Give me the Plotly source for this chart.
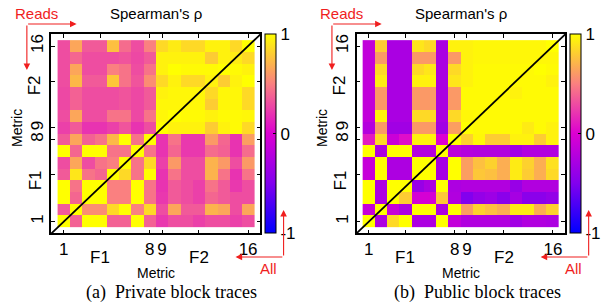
import plotly.graph_objects as go

W, H = 604, 305

metrics = list(range(1, 17))
x_tick_vals = [1, 4, 8, 9, 12, 16]
x_tick_text = ["1", "", "8", "9", "", "16"]
y_tick_vals = [1, 5, 8, 9, 13, 16]
y_tick_text = ["1", "", "8", "9", "", "16"]
cbar_vals = [-1, 0, 1]
cbar_text = ["-1", "0", "1"]

# rows listed from metric 16 (top) down to metric 1 (bottom)
private_rows = [
    [0.30, 0.65, 0.35, 0.35, 0.75, 0.42, 0.30, 0.50, 0.85, 0.92, 0.85, 0.85, 0.95, 0.95, 0.85, 1.00],
    [0.30, 0.40, 0.30, 0.30, 0.30, 0.33, 0.28, 0.35, 0.95, 0.95, 0.95, 0.95, 0.80, 0.95, 0.92, 0.85],
    [0.30, 0.65, 0.30, 0.30, 0.50, 0.45, 0.30, 0.45, 0.95, 1.00, 0.98, 0.98, 0.98, 1.00, 0.98, 0.95],
    [0.30, 0.72, 0.35, 0.35, 0.78, 0.45, 0.33, 0.55, 0.85, 0.95, 0.85, 0.85, 0.95, 0.80, 0.95, 1.00],
    [0.28, 0.38, 0.30, 0.30, 0.30, 0.33, 0.28, 0.35, 0.95, 0.97, 0.97, 0.97, 0.85, 0.97, 0.97, 0.85],
    [0.28, 0.38, 0.30, 0.30, 0.30, 0.33, 0.28, 0.35, 0.97, 0.97, 0.97, 0.97, 0.80, 0.97, 0.97, 0.85],
    [0.30, 0.65, 0.30, 0.30, 0.45, 0.45, 0.28, 0.45, 0.97, 1.00, 0.98, 0.98, 0.95, 0.98, 0.98, 0.97],
    [0.25, 0.35, 0.20, 0.20, 0.25, 0.33, 0.20, 0.30, 1.00, 0.95, 0.95, 0.95, 0.80, 0.95, 0.98, 0.85],
    [0.35, 0.65, 0.38, 0.45, 0.72, 1.00, 0.45, 1.00, 0.20, 0.45, 0.22, 0.22, 0.60, 0.40, 0.20, 0.62],
    [1.00, 0.40, 1.00, 1.00, 0.45, 0.45, 1.00, 0.45, 0.20, 0.40, 0.22, 0.22, 0.42, 0.38, 0.20, 0.42],
    [0.30, 0.65, 0.30, 0.45, 0.50, 1.00, 0.45, 0.85, 0.25, 0.60, 0.30, 0.30, 0.70, 0.60, 0.30, 0.60],
    [0.35, 0.90, 0.45, 0.40, 1.00, 0.85, 0.45, 1.00, 0.20, 0.45, 0.30, 0.30, 0.70, 0.45, 0.20, 0.45],
    [1.00, 0.45, 1.00, 1.00, 0.50, 0.50, 1.00, 0.45, 0.20, 0.35, 0.30, 0.25, 0.45, 0.35, 0.22, 0.30],
    [1.00, 0.40, 1.00, 1.00, 0.50, 0.50, 1.00, 0.45, 0.22, 0.35, 0.30, 0.25, 0.40, 0.35, 0.30, 0.30],
    [0.35, 1.00, 0.55, 0.55, 0.85, 1.00, 0.50, 0.85, 0.30, 0.65, 0.35, 0.35, 0.70, 0.65, 0.30, 0.65],
    [1.00, 0.38, 1.00, 1.00, 0.38, 0.38, 1.00, 0.38, 0.22, 0.30, 0.30, 0.25, 0.30, 0.30, 0.25, 0.30],
]

public_rows = [
    [-0.15, 0.80, -0.28, -0.28, 0.90, 0.85, -0.28, 0.95, 0.95, 0.97, 0.97, 0.97, 0.97, 0.97, 0.97, 1.00],
    [-0.15, 0.60, -0.28, -0.28, 0.60, 0.60, -0.28, 0.60, 0.95, 0.97, 0.97, 0.97, 0.97, 0.97, 0.97, 0.97],
    [-0.15, 0.85, -0.28, -0.28, 0.85, 0.90, -0.28, 0.85, 0.95, 0.98, 0.98, 0.98, 0.98, 0.98, 1.00, 0.98],
    [-0.15, 0.92, -0.28, -0.28, 0.95, 0.95, -0.28, 0.90, 0.95, 0.98, 0.98, 0.98, 0.98, 0.98, 0.98, 0.95],
    [-0.15, 0.60, -0.28, -0.28, 0.60, 0.60, -0.28, 0.60, 0.98, 0.98, 0.98, 0.98, 0.95, 0.98, 0.98, 0.98],
    [-0.15, 0.60, -0.28, -0.28, 0.60, 0.60, -0.28, 0.60, 0.98, 0.98, 0.98, 0.98, 0.98, 0.98, 0.98, 0.98],
    [-0.15, 0.95, -0.28, -0.28, 0.85, 0.85, -0.28, 0.85, 0.97, 0.98, 0.98, 0.98, 0.98, 0.98, 0.98, 0.98],
    [-0.22, 0.60, -0.33, -0.33, 0.60, 0.60, -0.33, 0.62, 1.00, 0.98, 0.98, 0.98, 0.98, 0.92, 0.98, 0.95],
    [0.10, 0.85, -0.10, 0.05, 0.95, 0.95, 0.00, 1.00, 0.82, 0.97, 0.80, 0.80, 0.95, 0.95, 0.80, 0.95],
    [1.00, -0.26, 1.00, 1.00, -0.22, -0.22, 1.00, -0.18, -0.22, -0.24, -0.24, -0.24, -0.33, -0.24, -0.24, -0.24],
    [-0.12, 1.00, -0.26, -0.26, 1.00, 1.00, -0.30, 1.00, 0.62, 0.75, 0.82, 0.68, 0.92, 0.82, 0.68, 0.88],
    [-0.12, 1.00, -0.26, -0.26, 1.00, 1.00, -0.30, 1.00, 0.62, 0.78, 0.75, 0.68, 0.92, 0.80, 0.68, 0.85],
    [1.00, -0.26, 1.00, 1.00, -0.38, -0.28, 1.00, -0.26, -0.24, -0.24, -0.24, -0.24, -0.38, -0.24, -0.24, -0.24],
    [1.00, -0.26, 1.00, 0.80, -0.04, -0.04, 0.78, -0.24, -0.50, -0.40, -0.35, -0.45, -0.30, -0.45, -0.45, -0.40],
    [-0.12, 1.00, -0.12, -0.26, 1.00, 1.00, -0.26, 1.00, 0.62, 0.82, 0.75, 0.68, 0.92, 0.92, 0.68, 0.82],
    [1.00, -0.26, 0.85, 1.00, -0.26, -0.26, 1.00, -0.14, -0.24, -0.24, -0.24, -0.24, -0.32, -0.24, -0.24, -0.26],
]

colorscale = [
    [0.0, "rgb(0,0,255)"],
    [0.25, "rgb(130,0,238)"],
    [0.5, "rgb(220,0,210)"],
    [0.75, "rgb(250,128,128)"],
    [1.0, "rgb(255,255,0)"],
]

SANS = "Liberation Sans, Arial, sans-serif"
SERIF = "Liberation Serif, Times New Roman, serif"
RED = "rgb(240,30,30)"


def px(xp):
    return xp / W


def py(yp):
    return 1 - yp / H


fig = go.Figure()
fig.add_trace(go.Heatmap(x=metrics, y=metrics, z=private_rows[::-1],
                         coloraxis="coloraxis", xaxis="x", yaxis="y", hoverinfo="skip"))
fig.add_trace(go.Heatmap(x=metrics, y=metrics, z=public_rows[::-1],
                         coloraxis="coloraxis2", xaxis="x2", yaxis="y2", hoverinfo="skip"))

ydom = [py(233.3), py(34.3)]
panels = [
    dict(x0=51.7, x1=261.7, cb=266.0),
    dict(x0=358.3, x1=568.0, cb=572.7),
]

axis_common = dict(
    range=[0, 17], showgrid=False, zeroline=False, showline=True, linecolor="black",
    linewidth=1.5, mirror="ticks", ticks="inside", ticklen=4, tickwidth=1, tickcolor="black",
    tickfont=dict(family=SANS, size=17, color="black"),
)

layout = dict(
    width=W, height=H, margin=dict(l=0, r=0, t=0, b=0),
    paper_bgcolor="white", plot_bgcolor="white", showlegend=False,
)

cbar_common = dict(
    thickness=11, thicknessmode="pixels", len=(233.3 - 34.3) / H, lenmode="fraction",
    xanchor="left", xpad=0, y=(ydom[0] + ydom[1]) / 2, yanchor="middle", ypad=0,
    outlinewidth=1, outlinecolor="black", tickvals=cbar_vals, ticktext=cbar_text,
    ticks="inside", ticklen=3, tickcolor="black",
    tickfont=dict(family=SANS, size=17, color="black"),
)

annotations = []
shapes = []
for i, p in enumerate(panels):
    sx = "" if i == 0 else "2"
    off = p["x0"] - 51.7
    layout["xaxis" + sx] = dict(axis_common, domain=[px(p["x0"]), px(p["x1"])],
                                tickvals=x_tick_vals, ticktext=x_tick_text,
                                anchor="y" + sx)
    layout["yaxis" + sx] = dict(axis_common, domain=ydom, tickvals=y_tick_vals,
                                ticktext=y_tick_text, tickangle=-90, anchor="x" + sx)
    layout["coloraxis" + sx] = dict(cmin=-1, cmax=1, colorscale=colorscale,
                                    colorbar=dict(cbar_common, x=px(p["cb"])))
    shapes.append(dict(type="line", xref="x" + sx + " domain", yref="y" + sx + " domain",
                       x0=0, y0=0, x1=1, y1=1, line=dict(color="black", width=1.8)))

    def txt(t, xp, yp, size=15, color="black", angle=0, family=SANS):
        annotations.append(dict(text=t, x=px(xp), y=py(yp), xref="paper", yref="paper",
                                showarrow=False, xanchor="center", yanchor="middle",
                                textangle=angle, font=dict(family=family, size=size, color=color)))

    txt("Spearman's ρ", 157 + off, 13)
    txt("Reads", 37 + off, 13, color=RED)
    txt("All", 270 + off, 268, color=RED)
    txt("F1", 100.8 + off, 257, size=17)
    txt("F2", 200 + off, 257, size=17)
    txt("Metric", 157 + off, 273, size=14)
    txt("F2", 35.5 + off, 85, size=17, angle=-90)
    txt("F1", 35.5 + off, 180, size=17, angle=-90)
    txt("Metric", 17 + off, 128, size=14, angle=-90)
    cap = "(a)\u2002Private block traces" if i == 0 else "(b)\u2002Public block traces"
    txt(cap, 172 + off + (1 if i else 0), 292, size=18, family=SERIF)

    def arrow(hx, hy, tx, ty):
        annotations.append(dict(text="", x=px(hx), y=py(hy), xref="paper", yref="paper",
                                ax=tx - hx, ay=ty - hy, axref="pixel", ayref="pixel",
                                showarrow=True, arrowhead=2, arrowsize=1.2, arrowwidth=1.1,
                                arrowcolor=RED, standoff=0, startstandoff=0))

    cx = 27 + off
    arrow(77 + off, 24, cx, 24)
    arrow(cx, 70, cx, 24)
    ax_ = 285 + off
    arrow(236.7 + off, 257, ax_, 257)
    arrow(ax_, 210, ax_, 257)

layout["annotations"] = annotations
layout["shapes"] = shapes
fig.update_layout(**layout)
fig.write_html("out.html", config={"displayModeBar": False},
               post_script="document.body.style.margin='0px';")
